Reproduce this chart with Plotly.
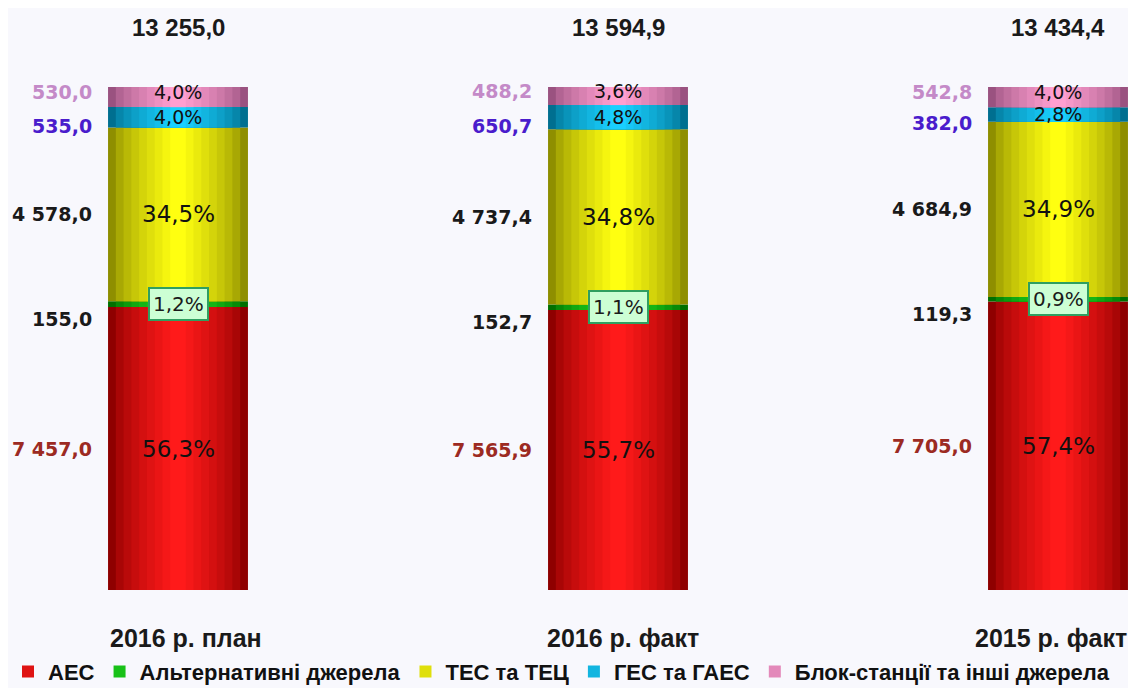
import plotly.graph_objects as go

categories = ["2016 р. план", "2016 р. факт", "2015 р. факт"]
series_names = ["АЕС", "Альтернативні джерела", "ТЕС та ТЕЦ", "ГЕС та ГАЕС", "Блок-станції та інші джерела"]
aes = [7457.0, 7565.9, 7705.0]
alt = [155.0, 152.7, 119.3]
tes = [4578.0, 4737.4, 4684.9]
ges = [535.0, 650.7, 382.0]
blok = [530.0, 488.2, 542.8]
totals = [13255.0, 13594.9, 13434.4]

series_values = [aes, alt, tes, ges, blok]
edge_colors = ["#8e0000", "#007000", "#8e8e00", "#006f90", "#9a5280"]
center_colors = ["#ff1a1a", "#22e022", "#ffff10", "#19d0ff", "#ff9fd0"]
value_colors = ["#9c2a22", "#1a1a1a", "#1a1a1a", "#4a1ccc", "#c48ac8"]
value_yshift = [0, -15, 0, -9, 5]      # label nudges per series (px)
pct_yshift = [0, 0, 0, 0, 5]
cat_xshift = [8, 5, -7]

W = 0.318
LAYERS = 9
xs = list(range(len(categories)))

# figure sits 8px inside the page (browser body margin)
FIG_W, FIG_H = 1128, 680
PX_X = 440.0           # px per category
X0 = 170.0             # px of first bar centre inside the figure
PX_Y = 5.03            # px per percent
Y0 = 582.0             # px of 0 % inside the figure


def hex2rgb(h):
    h = h.lstrip("#")
    return [int(h[i:i + 2], 16) for i in (0, 2, 4)]


def mix(a, b, t):
    ca, cb = hex2rgb(a), hex2rgb(b)
    return "rgb(%d,%d,%d)" % tuple(round(ca[i] + (cb[i] - ca[i]) * t) for i in range(3))


def fmt(v):
    s = f"{v:,.1f}"
    return s.replace(",", " ").replace(".", ",")


shares = [[vals[i] / totals[i] * 100 for i in range(len(xs))] for vals in series_values]
bases = []
cum = [0.0] * len(xs)
for sh in shares:
    bases.append(cum[:])
    cum = [cum[i] + sh[i] for i in range(len(xs))]

fig = go.Figure()
for s, name in enumerate(series_names):
    for k in range(LAYERS):
        t = k / (LAYERS - 1)
        fig.add_trace(go.Bar(
            x=xs, y=shares[s], base=bases[s],
            width=[W * (1 - k / LAYERS)] * len(xs),
            marker=dict(color=mix(edge_colors[s], center_colors[s], t ** 0.7), line=dict(width=0)),
            name=name, legendgroup=name,
            showlegend=(k == LAYERS // 2 + 1),
            hoverinfo="skip",
        ))

annotations = []
for i in xs:
    annotations.append(dict(x=i, y=100, yshift=60, text=fmt(totals[i]), showarrow=False,
                            font=dict(family="Liberation Sans", size=24, color="#1a1a1a", weight="bold")))
    annotations.append(dict(x=i, y=0, yshift=-48, xshift=cat_xshift[i], text=categories[i], showarrow=False,
                            font=dict(family="Liberation Sans", size=25, color="#1a1a1a", weight="bold")))
    for s in range(len(series_names)):
        mid = bases[s][i] + shares[s][i] / 2
        pct = f"{shares[s][i]:.1f}%".replace(".", ",")
        annotations.append(dict(x=i - W / 2, y=mid, xanchor="right", xshift=-14,
                                yshift=value_yshift[s],
                                text=fmt(series_values[s][i]), showarrow=False,
                                font=dict(family="DejaVu Sans", size=19, color=value_colors[s], weight="bold")))
        if s == 1:
            annotations.append(dict(x=i, y=mid, text=pct, showarrow=False,
                                    bgcolor="#ccffd4", bordercolor="#2f9f60", borderwidth=2, borderpad=3,
                                    font=dict(family="DejaVu Sans", size=20, color="#1a1a1a")))
        else:
            size = 23 if shares[s][i] > 20 else 19
            annotations.append(dict(x=i, y=mid, yshift=pct_yshift[s], text=pct, showarrow=False,
                                    font=dict(family="DejaVu Sans", size=size, color="#111111")))

fig.update_layout(
    width=FIG_W, height=FIG_H,
    barmode="overlay",
    margin=dict(l=0, r=0, t=0, b=0, autoexpand=False),
    paper_bgcolor="#f8f8fd", plot_bgcolor="#f8f8fd",
    xaxis=dict(range=[-X0 / PX_X, (FIG_W - X0) / PX_X], visible=False, fixedrange=True),
    yaxis=dict(range=[-(FIG_H - Y0) / PX_Y, (Y0) / PX_Y], visible=False, fixedrange=True),
    legend=dict(orientation="h", x=0.0, xanchor="left", y=0.024, yanchor="middle",
                font=dict(family="Liberation Sans", size=22, color="#111111", weight="bold"),
                bgcolor="rgba(0,0,0,0)", itemsizing="constant", tracegroupgap=0),
    annotations=annotations,
    showlegend=True,
)

fig.write_html("out.html")
